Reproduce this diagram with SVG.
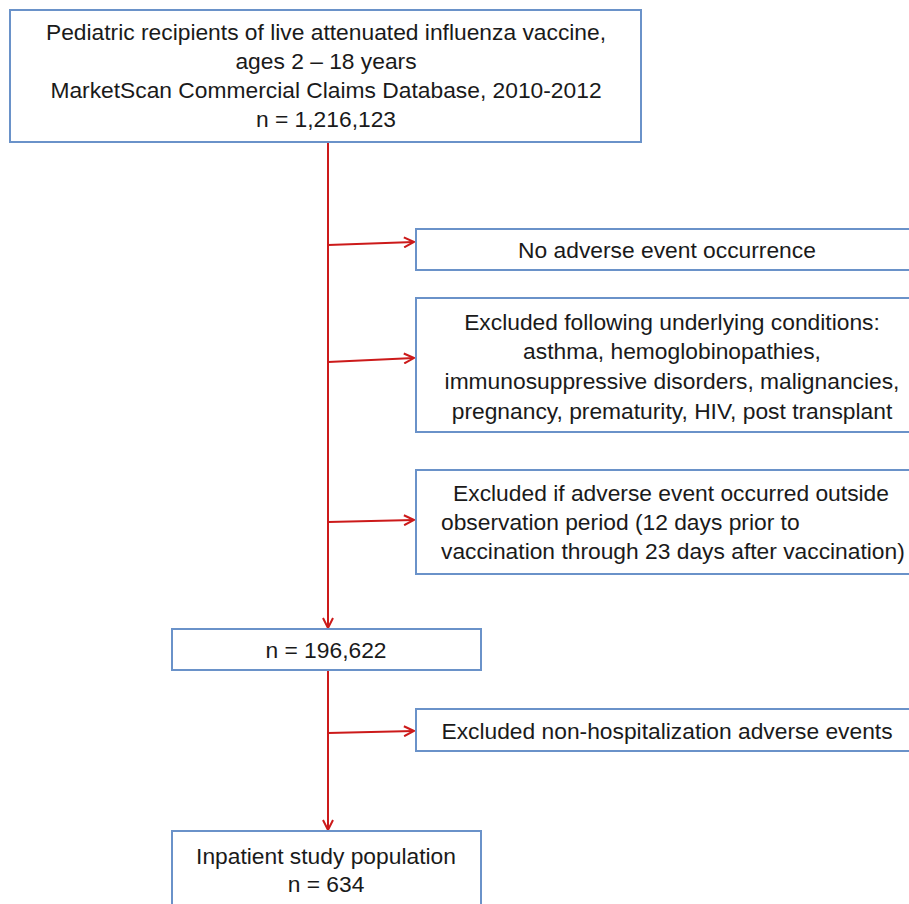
<svg xmlns="http://www.w3.org/2000/svg" width="909" height="904" viewBox="0 0 909 904">
<defs>
<style>
.box{fill:#fff;stroke:#6a92c9;stroke-width:2}
.t{font-family:"Liberation Sans",Arial,sans-serif;font-size:22.8px;fill:#1a1a1a}
.c{text-anchor:middle}
.ln{fill:none;stroke:#cc1a1a;stroke-width:2}
</style>
<marker id="ah" viewBox="0 0 12 12" refX="11" refY="6" markerWidth="12" markerHeight="12" markerUnits="userSpaceOnUse" orient="auto">
<polyline points="1,1 11,6 1,11" fill="none" stroke="#cc1a1a" stroke-width="2"/>
</marker>
</defs>
<rect width="909" height="904" fill="#fff"/>
<g id="connectors">
<line class="ln" x1="328" y1="142" x2="328" y2="628" marker-end="url(#ah)"/>
<line class="ln" x1="328" y1="245" x2="414" y2="242" marker-end="url(#ah)"/>
<line class="ln" x1="328" y1="362" x2="414" y2="358" marker-end="url(#ah)"/>
<line class="ln" x1="328" y1="522" x2="414" y2="520" marker-end="url(#ah)"/>
<line class="ln" x1="328" y1="670" x2="328" y2="830" marker-end="url(#ah)"/>
<line class="ln" x1="328" y1="733" x2="414" y2="731" marker-end="url(#ah)"/>
</g>
<g id="source">
<rect class="box" x="10" y="10" width="631" height="132"/>
<text class="t c" x="326" y="40">Pediatric recipients of live attenuated influenza vaccine,</text>
<text class="t c" x="326" y="69">ages 2 – 18 years</text>
<text class="t c" x="326" y="98">MarketScan Commercial Claims Database, 2010-2012</text>
<text class="t c" x="326" y="127">n = 1,216,123</text>
</g>
<g id="no-adverse">
<rect class="box" x="416" y="229" width="500" height="41"/>
<text class="t c" x="667" y="258">No adverse event occurrence</text>
</g>
<g id="underlying">
<rect class="box" x="416" y="298" width="500" height="134"/>
<text class="t c" x="672" y="330">Excluded following underlying conditions:</text>
<text class="t c" x="672" y="359">asthma, hemoglobinopathies,</text>
<text class="t c" x="672" y="389">immunosuppressive disorders, malignancies,</text>
<text class="t c" x="672" y="419">pregnancy, prematurity, HIV, post transplant</text>
</g>
<g id="outside-period">
<rect class="box" x="416" y="470" width="500" height="104"/>
<text class="t c" x="671" y="501">Excluded if adverse event occurred outside</text>
<text class="t" x="441" y="530">observation period (12 days prior to</text>
<text class="t" x="441" y="559">vaccination through 23 days after vaccination)</text>
</g>
<g id="n196622">
<rect class="box" x="172" y="629" width="309" height="41"/>
<text class="t c" x="326" y="658">n = 196,622</text>
</g>
<g id="non-hosp">
<rect class="box" x="416" y="709" width="500" height="42"/>
<text class="t c" x="667" y="739">Excluded non-hospitalization adverse events</text>
</g>
<g id="inpatient">
<rect class="box" x="172" y="831" width="309" height="80"/>
<text class="t c" x="326" y="864">Inpatient study population</text>
<text class="t c" x="326" y="892">n = 634</text>
</g>
</svg>
